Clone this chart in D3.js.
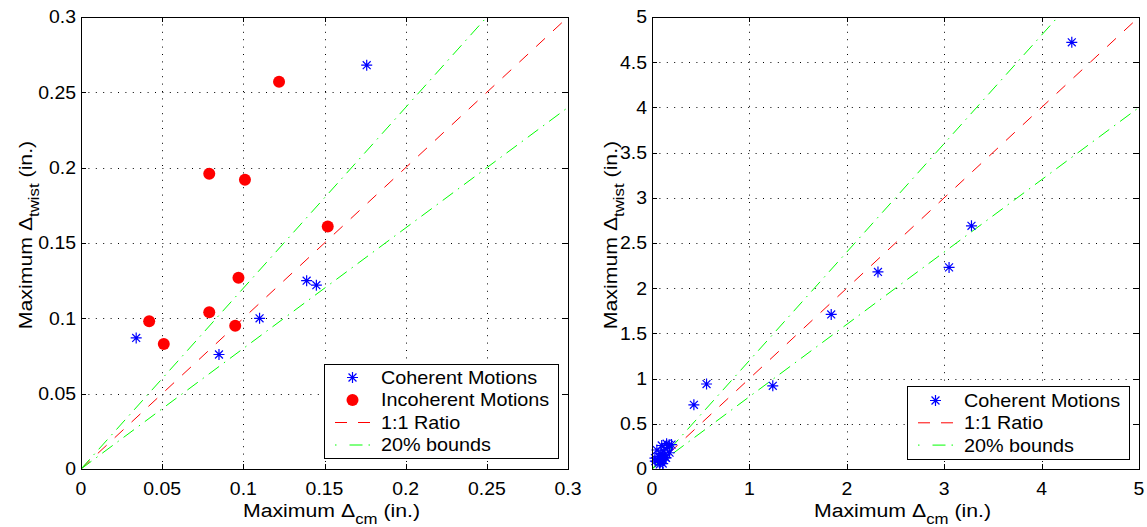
<!DOCTYPE html>
<html>
<head>
<meta charset="utf-8">
<script src="https://cdn.jsdelivr.net/npm/d3@7"></script>
<style>
  html, body { margin: 0; padding: 0; background: #fff; }
  svg { display: block; }
  text { font-family: "Liberation Sans", Arial, Helvetica, sans-serif; fill: #000; }
</style>
</head>
<body>
<svg id="chart" width="1147" height="527"></svg>
<script>
// ---- Left panel: small-displacement records (inches) ----
const leftCoherentX   = [0.034, 0.085, 0.110, 0.139, 0.145, 0.176];
const leftCoherentY   = [0.087, 0.076, 0.100, 0.125, 0.122, 0.268];
const leftIncoherentX = [0.122, 0.079, 0.101, 0.152, 0.097, 0.079, 0.095, 0.042, 0.051];
const leftIncoherentY = [0.257, 0.196, 0.192, 0.161, 0.127, 0.104, 0.095, 0.098, 0.083];

// ---- Right panel: all coherent records (inches) ----
const rightCoherentX = [4.31, 3.28, 3.05, 2.32, 1.84, 1.24, 0.56, 0.43,
                        0.034, 0.085, 0.110, 0.139, 0.145, 0.176,
                        0.03, 0.06, 0.09, 0.12, 0.10, 0.15, 0.20, 0.08, 0.13, 0.05, 0.18, 0.07, 0.16, 0.11];
const rightCoherentY = [4.72, 2.69, 2.23, 2.18, 1.71, 0.92, 0.94, 0.71,
                        0.087, 0.076, 0.100, 0.125, 0.122, 0.268,
                        0.12, 0.10, 0.17, 0.20, 0.26, 0.28, 0.27, 0.05, 0.15, 0.21, 0.18, 0.14, 0.24, 0.06];

// ---- Reference lines: 1:1 ratio and +/-20% bounds (endpoints) ----
const leftRatioLine  = [[0, 0], [0.3, 0.3]];
const leftUpperBound = [[0, 0], [0.25, 0.3]];
const leftLowerBound = [[0, 0], [0.3, 0.24]];
const rightRatioLine  = [[0, 0], [5, 5]];
const rightUpperBound = [[0, 0], [4.1667, 5]];
const rightLowerBound = [[0, 0], [5, 4]];

// ---- Axis ticks and labels ----
const leftTicks  = [0, 0.05, 0.1, 0.15, 0.2, 0.25, 0.3];
const leftTickLabels = ["0", "0.05", "0.1", "0.15", "0.2", "0.25", "0.3"];
const rightXTicks = [0, 1, 2, 3, 4, 5];
const rightXTickLabels = ["0", "1", "2", "3", "4", "5"];
const rightYTicks = [0, 0.5, 1, 1.5, 2, 2.5, 3, 3.5, 4, 4.5, 5];
const rightYTickLabels = ["0", "0.5", "1", "1.5", "2", "2.5", "3", "3.5", "4", "4.5", "5"];

const leftLegendLabels  = ["Coherent Motions", "Incoherent Motions", "1:1 Ratio", "20% bounds"];
const rightLegendLabels = ["Coherent Motions", "1:1 Ratio", "20% bounds"];

const BLUE = "#0000ff", RED = "#ff0000", GREEN = "#00ff00";
const RATIO_DASH = "12,11";
const BOUND_DASH = "13,6,1.5,6";

const svg = d3.select("#chart");

// text placed at (x, y), widened horizontally by sx
function label(g, x, y, str, size, anchor, sx, dy) {
  return g.append("text")
    .attr("transform", `translate(${x},${y}) scale(${sx},1)`)
    .attr("text-anchor", anchor).attr("font-size", size)
    .attr("dy", dy || 0).text(str);
}

function asterisk(g, cx, cy, r) {
  const d = r * 0.72;
  g.append("path")
    .attr("d", `M${cx - r},${cy}L${cx + r},${cy}M${cx},${cy - r}L${cx},${cy + r}` +
               `M${cx - d},${cy - d}L${cx + d},${cy + d}M${cx - d},${cy + d}L${cx + d},${cy - d}`)
    .attr("stroke", BLUE).attr("stroke-width", 1.2).attr("fill", "none");
}

function panel(opt) {
  const { left, top, width, height, xDomain, yDomain, xTicks, xLabels, yTicks, yLabels, id } = opt;
  const x = d3.scaleLinear().domain(xDomain).range([left, left + width]);
  const y = d3.scaleLinear().domain(yDomain).range([top + height, top]);
  const g = svg.append("g");

  g.append("rect").attr("x", left).attr("y", top).attr("width", width).attr("height", height).attr("fill", "#fff");

  // dotted grid
  const grid = g.append("g").attr("stroke", "#000").attr("stroke-width", 1)
    .attr("stroke-dasharray", "1,6.4").attr("fill", "none");
  xTicks.slice(1, -1).forEach(t => {
    grid.append("line").attr("x1", Math.round(x(t)) + 0.5).attr("x2", Math.round(x(t)) + 0.5)
      .attr("y1", top).attr("y2", top + height);
  });
  yTicks.slice(1, -1).forEach(t => {
    grid.append("line").attr("y1", Math.round(y(t)) + 0.5).attr("y2", Math.round(y(t)) + 0.5)
      .attr("x1", left).attr("x2", left + width);
  });

  // clip for reference lines
  svg.append("clipPath").attr("id", id).append("rect")
    .attr("x", left).attr("y", top).attr("width", width).attr("height", height);

  const line = d3.line().x(d => x(d[0])).y(d => y(d[1]));
  const lines = g.append("g").attr("clip-path", `url(#${id})`).attr("fill", "none").attr("stroke-width", 1);
  lines.append("path").datum(opt.ratio).attr("d", line).attr("stroke", RED).attr("stroke-dasharray", RATIO_DASH);
  lines.append("path").datum(opt.upper).attr("d", line).attr("stroke", GREEN).attr("stroke-dasharray", BOUND_DASH);
  lines.append("path").datum(opt.lower).attr("d", line).attr("stroke", GREEN).attr("stroke-dasharray", BOUND_DASH);

  // data markers
  opt.coherentX.forEach((v, i) => asterisk(g, x(v), y(opt.coherentY[i]), 5.5));
  if (opt.incoherentX) {
    opt.incoherentX.forEach((v, i) => {
      g.append("circle").attr("cx", x(v)).attr("cy", y(opt.incoherentY[i])).attr("r", 6).attr("fill", RED);
    });
  }

  // box and inward ticks on all sides
  const frame = g.append("g").attr("stroke", "#000").attr("stroke-width", 1).attr("fill", "none");
  frame.append("rect").attr("x", left + 0.5).attr("y", top + 0.5).attr("width", width).attr("height", height);
  const tl = 5;
  xTicks.forEach(t => {
    const px = Math.round(x(t)) + 0.5;
    frame.append("line").attr("x1", px).attr("x2", px).attr("y1", top + height).attr("y2", top + height - tl);
    frame.append("line").attr("x1", px).attr("x2", px).attr("y1", top).attr("y2", top + tl);
  });
  yTicks.forEach(t => {
    const py = Math.round(y(t)) + 0.5;
    frame.append("line").attr("y1", py).attr("y2", py).attr("x1", left).attr("x2", left + tl);
    frame.append("line").attr("y1", py).attr("y2", py).attr("x1", left + width).attr("x2", left + width - tl);
  });

  // tick labels
  xTicks.forEach((t, i) => label(g, x(t), top + height + 26, xLabels[i], 18, "middle", 1.08));
  yTicks.forEach((t, i) => label(g, left - 5, y(t), yLabels[i], 18, "end", 1.08, "0.36em"));

  // axis titles
  const xt = g.append("text")
    .attr("transform", `translate(${left + width / 2 + 7},517) scale(1.12,1)`)
    .attr("text-anchor", "middle").attr("font-size", 19);
  xt.append("tspan").text("Maximum \u0394");
  xt.append("tspan").attr("font-size", 15).attr("dy", 7).text("cm");
  xt.append("tspan").attr("dy", -7).text(" (in.)");

  const yt = g.append("text")
    .attr("transform", `translate(${opt.yTitleX},${top + height / 2 - 8}) rotate(-90) scale(1.12,1)`)
    .attr("text-anchor", "middle").attr("font-size", 19);
  yt.append("tspan").text("Maximum \u0394");
  yt.append("tspan").attr("font-size", 15).attr("dy", 7).text("twist");
  yt.append("tspan").attr("dy", -7).text(" (in.)");

  // legend
  const L = opt.legend;
  const lg = g.append("g");
  lg.append("rect").attr("x", L.x + 0.5).attr("y", L.y + 0.5).attr("width", L.w).attr("height", L.h)
    .attr("fill", "#fff").attr("stroke", "#000").attr("stroke-width", 1);
  L.labels.forEach((lab, i) => {
    const cy = L.y + L.first + i * L.step;
    const kind = L.kinds[i];
    const sx0 = L.x + 11, sx1 = L.x + 46, mx = L.x + 28.5;
    if (kind === "coh") asterisk(lg, mx, cy, 5.5);
    if (kind === "inc") lg.append("circle").attr("cx", mx).attr("cy", cy).attr("r", 6).attr("fill", RED);
    if (kind === "ratio") lg.append("line").attr("x1", sx0).attr("x2", sx1).attr("y1", cy).attr("y2", cy)
      .attr("stroke", RED).attr("stroke-dasharray", RATIO_DASH);
    if (kind === "bound") lg.append("line").attr("x1", sx0).attr("x2", sx1).attr("y1", cy).attr("y2", cy)
      .attr("stroke", GREEN).attr("stroke-dasharray", "1.5,13,13,6");
    label(lg, L.x + 57, cy, lab, 18, "start", 1.1, "0.36em");
  });
}

panel({
  id: "clipL", left: 81, top: 17, width: 487, height: 452,
  xDomain: [0, 0.3], yDomain: [0, 0.3],
  xTicks: leftTicks, xLabels: leftTickLabels, yTicks: leftTicks, yLabels: leftTickLabels,
  ratio: leftRatioLine, upper: leftUpperBound, lower: leftLowerBound,
  coherentX: leftCoherentX, coherentY: leftCoherentY,
  incoherentX: leftIncoherentX, incoherentY: leftIncoherentY,
  yTitleX: 32,
  legend: { x: 324, y: 364, w: 234, h: 94, first: 13.5, step: 22.5,
            labels: leftLegendLabels, kinds: ["coh", "inc", "ratio", "bound"] }
});

panel({
  id: "clipR", left: 652, top: 17, width: 487, height: 452,
  xDomain: [0, 5], yDomain: [0, 5],
  xTicks: rightXTicks, xLabels: rightXTickLabels, yTicks: rightYTicks, yLabels: rightYTickLabels,
  ratio: rightRatioLine, upper: rightUpperBound, lower: rightLowerBound,
  coherentX: rightCoherentX, coherentY: rightCoherentY,
  yTitleX: 617,
  legend: { x: 907, y: 386, w: 222, h: 73, first: 14.5, step: 22.3,
            labels: rightLegendLabels, kinds: ["coh", "ratio", "bound"] }
});
</script>
</body>
</html>
